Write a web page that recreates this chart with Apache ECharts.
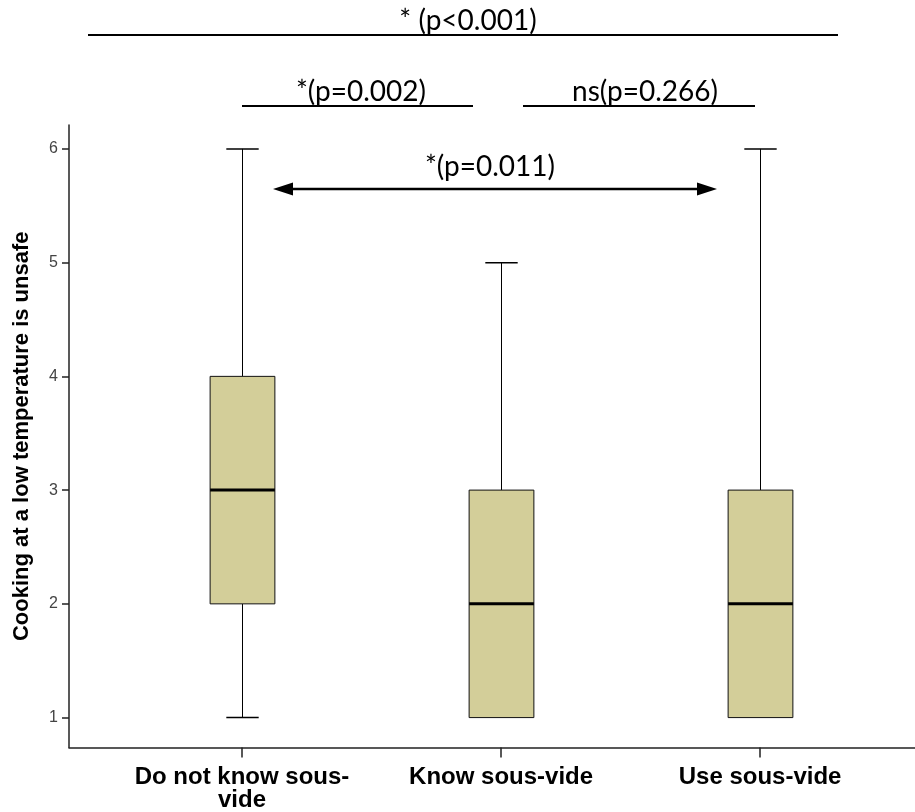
<!DOCTYPE html>
<html>
<head>
<meta charset="utf-8">
<script src="https://cdn.jsdelivr.net/npm/echarts@6/dist/echarts.min.js"></script>
<style>
html,body{margin:0;padding:0;background:#fff;}
#chart{width:915px;height:812px;}
</style>
</head>
<body>
<div id="chart"></div>
<script>
// ---- data ----
const categories = ['Do not know sous-\nvide', 'Know sous-vide', 'Use sous-vide'];
const positions = [1, 2, 3];
const mins    = [1, 1, 1];
const q1s     = [2, 1, 1];
const medians = [3, 2, 2];
const q3s     = [4, 3, 3];
const maxs    = [6, 5, 6];
const yTicks  = [1, 2, 3, 4, 5, 6];
const yAxisName = 'Cooking at a low temperature is unsafe';
const annTop = '* (p<0.001)';
const annLeft = '*(p=0.002)';
const annRight = 'ns(p=0.266)';
const annArrow = '*(p=0.011)';

const boxData = positions.map((p, i) => [p, mins[i], q1s[i], medians[i], q3s[i], maxs[i]]);

const chart = echarts.init(document.getElementById('chart'));

function renderBox(params, api) {
  const x = api.value(0);
  const unit = api.size([1, 0])[0];
  const half = unit * 0.125;
  const capHalf = unit * 0.0625;
  const pMin = api.coord([x, api.value(1)]);
  const pQ1 = api.coord([x, api.value(2)]);
  const pMed = api.coord([x, api.value(3)]);
  const pQ3 = api.coord([x, api.value(4)]);
  const pMax = api.coord([x, api.value(5)]);
  const cx = Math.round(pMed[0]) + 0.5;
  const children = [];
  const lineStyle = { stroke: '#000', lineWidth: 1 };
  if (pMin[1] !== pQ1[1]) {
    children.push({ type: 'line', shape: { x1: cx, y1: pQ1[1], x2: cx, y2: pMin[1] }, style: lineStyle });
    children.push({ type: 'line', shape: { x1: cx - capHalf, y1: pMin[1], x2: cx + capHalf, y2: pMin[1] }, style: { stroke: '#000', lineWidth: 1.5 } });
  }
  children.push({ type: 'line', shape: { x1: cx, y1: pQ3[1], x2: cx, y2: pMax[1] }, style: lineStyle });
  children.push({ type: 'line', shape: { x1: cx - capHalf, y1: pMax[1], x2: cx + capHalf, y2: pMax[1] }, style: { stroke: '#000', lineWidth: 1.5 } });
  children.push({ type: 'rect', shape: { x: cx - half, y: pQ3[1], width: half * 2, height: pQ1[1] - pQ3[1] }, style: { fill: '#D3CE99', stroke: '#111', lineWidth: 1 } });
  children.push({ type: 'line', shape: { x1: cx - half, y1: pMed[1], x2: cx + half, y2: pMed[1] }, style: { stroke: '#000', lineWidth: 3 } });
  return { type: 'group', children: children };
}

const annFont = 'Lato, "Open Sans", sans-serif';

function arrowHead(tipX, y, dir) {
  return { type: 'polygon', shape: { points: [[tipX, y], [tipX + dir * 20, y - 6.5], [tipX + dir * 20, y + 6.5]] }, style: { fill: '#000' } };
}

const option = {
  backgroundColor: '#fff',
  animation: false,
  grid: { left: 69, right: 0, top: 125, bottom: 63 },
  xAxis: {
    type: 'value',
    min: 0.332, max: 3.598,
    splitLine: { show: false },
    axisLine: { show: true, lineStyle: { color: '#222', width: 1.5 } },
    axisTick: { show: true, customValues: positions, length: 10, lineStyle: { color: '#222', width: 1.5 } },
    axisLabel: {
      customValues: positions,
      formatter: function (v) { const i = positions.indexOf(Math.round(v)); return i >= 0 ? categories[i] : ''; },
      fontFamily: '"Liberation Sans", Arial, sans-serif', fontWeight: 'bold', fontSize: 24, lineHeight: 23,
      color: '#000', margin: 18
    }
  },
  yAxis: {
    type: 'value',
    min: 0.737, max: 6.21,
    splitLine: { show: false },
    axisLine: { show: true, lineStyle: { color: '#222', width: 1.5 } },
    axisTick: { show: true, customValues: yTicks, length: 7, lineStyle: { color: '#222', width: 1.5 } },
    axisLabel: { customValues: yTicks, fontFamily: '"Liberation Sans", Arial, sans-serif', fontSize: 16, color: '#444', margin: 11 },
    name: yAxisName,
    nameLocation: 'middle',
    nameGap: 36,
    nameTextStyle: { fontFamily: '"Liberation Sans", Arial, sans-serif', fontWeight: 'bold', fontSize: 22, color: '#000' }
  },
  series: [{
    type: 'custom',
    renderItem: renderBox,
    data: boxData,
    encode: { x: 0, y: [1, 2, 3, 4, 5] },
    clip: false
  }],
  graphic: [
    { type: 'line', shape: { x1: 88, y1: 35, x2: 838, y2: 35 }, style: { stroke: '#000', lineWidth: 2 } },
    { type: 'text', x: 468, y: 21, style: { text: annTop, font: '28px ' + annFont, fill: '#000', align: 'center', verticalAlign: 'middle' } },
    { type: 'line', shape: { x1: 242, y1: 106, x2: 473, y2: 106 }, style: { stroke: '#000', lineWidth: 2 } },
    { type: 'text', x: 361, y: 92, style: { text: annLeft, font: '28px ' + annFont, fill: '#000', align: 'center', verticalAlign: 'middle' } },
    { type: 'line', shape: { x1: 523, y1: 106, x2: 755, y2: 106 }, style: { stroke: '#000', lineWidth: 2 } },
    { type: 'text', x: 645, y: 92, style: { text: annRight, font: '28px ' + annFont, fill: '#000', align: 'center', verticalAlign: 'middle' } },
    { type: 'line', shape: { x1: 290, y1: 189, x2: 700, y2: 189 }, style: { stroke: '#000', lineWidth: 2.5 } },
    arrowHead(273, 189, 1),
    arrowHead(717, 189, -1),
    { type: 'text', x: 490, y: 167, style: { text: annArrow, font: '28px ' + annFont, fill: '#000', align: 'center', verticalAlign: 'middle' } }
  ]
};

chart.setOption(option);
</script>
</body>
</html>
